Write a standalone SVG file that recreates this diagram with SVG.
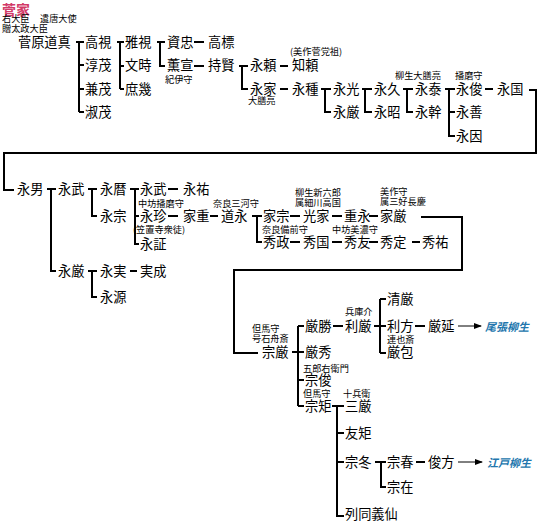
<svg xmlns="http://www.w3.org/2000/svg" width="541" height="523" viewBox="0 0 541 523">
<defs>
<style>
.n{font-family:"Noto Sans CJK JP","Noto Sans CJK SC",sans-serif;font-size:13.2px;fill:#000}
.s{font-family:"Noto Sans CJK JP","Noto Sans CJK SC",sans-serif;font-size:9.2px;fill:#000}
.t{font-family:"Noto Sans CJK JP",sans-serif;font-size:14px;font-weight:bold;fill:#d23a68}
.b{font-family:"Noto Sans CJK JP",sans-serif;font-size:11px;font-weight:bold;font-style:italic;fill:#2276ad}
.l{fill:none;stroke:#000;stroke-width:2}
.a{fill:none;stroke:#000;stroke-width:1}
</style>
<marker id="ah" viewBox="0 0 8 6" refX="7" refY="3" markerWidth="8" markerHeight="6" markerUnits="userSpaceOnUse" orient="auto">
<path d="M0,0 L8,3 L0,6 Z" fill="#000"/>
</marker>
</defs>
<rect width="541" height="523" fill="#fff"/>

<g id="connectors">
<path class="l" d="M76,42H84M79,42V112M79,65H84M79,89H84M79,112H84"/>
<path class="l" d="M117,42H124M120,42V89M120,66H124M120,89H124"/>
<path class="l" d="M157,42H165M160,42V66H165"/>
<path class="l" d="M194,42H204M194,66H204"/>
<path class="l" d="M239,66H248M242,66V89H248"/>
<path class="l" d="M280,66H288M280,89H288"/>
<path class="l" d="M321,89H331M325,89V112H331"/>
<path class="l" d="M362,89H372M365,89V112H372"/>
<path class="l" d="M403,89H413M407,89V112H413"/>
<path class="l" d="M445,89H455M449,89V136H455M449,112H455"/>
<path class="l" d="M485,89H493"/>
<path class="l" d="M529,90H536V153H4V190H14"/>
<path class="l" d="M47,189H56M51,189V271H56"/>
<path class="l" d="M88,189H97M92,189V216H97"/>
<path class="l" d="M130,189H139M135,189V244H139M135,216H139"/>
<path class="l" d="M168,189H178M168,216H178M210,216H218"/>
<path class="l" d="M252,216H262M257,216V242H262"/>
<path class="l" d="M290,216H300M332,216H342M369,216H378"/>
<path class="l" d="M290,242H300M332,242H342M369,242H378M412,242H420"/>
<path class="l" d="M421,217H462V270H234V353H258"/>
<path class="l" d="M88,271H97M92,271V297H97"/>
<path class="l" d="M130,271H137"/>
<path class="l" d="M292,352H304M298,326V406M298,326H304M298,380H304M298,406H304"/>
<path class="l" d="M333,326H343"/>
<path class="l" d="M374,326H386M380,299V353M380,299H386M380,353H386"/>
<path class="l" d="M415,326H425"/>
<path class="a" d="M458,326H481" marker-end="url(#ah)"/>
<path class="l" d="M332,406H344M337,406V516H344M337,433H344M337,462H344"/>
<path class="l" d="M375,462H386M381,462V487H386"/>
<path class="l" d="M416,462H425"/>
<path class="a" d="M458,462H482" marker-end="url(#ah)"/>
</g>

<g id="title">
<text class="t" x="2" y="15">菅家</text>
</g>

<g id="michizane">
<text class="s" x="2" y="22">右大臣</text>
<text class="s" x="40" y="22">遣唐大使</text>
<text class="s" x="2" y="32">贈太政大臣</text>
<text class="n" x="18" y="47">菅原道真</text>
</g>
<g id="takami"><text class="n" x="85" y="47">高視</text></g>
<g id="atsushige"><text class="n" x="85" y="70">淳茂</text></g>
<g id="kaneshige"><text class="n" x="85" y="94">兼茂</text></g>
<g id="yoshishige"><text class="n" x="85" y="117">淑茂</text></g>
<g id="masami"><text class="n" x="125" y="47">雅視</text></g>
<g id="fumitoki"><text class="n" x="125" y="70">文時</text></g>
<g id="shoki"><text class="n" x="125" y="94">庶幾</text></g>
<g id="suketada"><text class="n" x="167" y="47">資忠</text></g>
<g id="takasue"><text class="n" x="208" y="47">高標</text></g>
<g id="kunnobu"><text class="n" x="167" y="70">薫宣</text><text class="s" x="165" y="83">紀伊守</text></g>
<g id="mochikata"><text class="n" x="208" y="70">持賢</text></g>
<g id="nagayori"><text class="n" x="250" y="70">永頼</text></g>
<g id="tomoyori"><text class="s" x="290" y="55">(美作菅党祖)</text><text class="n" x="292" y="70">知頼</text></g>
<g id="nagaie"><text class="n" x="250" y="94">永家</text><text class="s" x="248" y="104">大膳亮</text></g>
<g id="nagatane"><text class="n" x="292" y="94">永種</text></g>
<g id="nagamitsu"><text class="n" x="333" y="94">永光</text></g>
<g id="nagayoshi1"><text class="n" x="333" y="117">永厳</text></g>
<g id="nagahisa"><text class="n" x="374" y="94">永久</text></g>
<g id="nagaaki"><text class="n" x="374" y="117">永昭</text></g>
<g id="nagayasu"><text class="s" x="395" y="79">柳生大膳亮</text><text class="n" x="415" y="94">永泰</text></g>
<g id="nagamoto"><text class="n" x="415" y="117">永幹</text></g>
<g id="nagatoshi"><text class="s" x="455" y="79">播磨守</text><text class="n" x="456" y="94">永俊</text></g>
<g id="nagakuni"><text class="n" x="497" y="94">永国</text></g>
<g id="nagayoshi2"><text class="n" x="456" y="117">永善</text></g>
<g id="nagayori2"><text class="n" x="456" y="141">永因</text></g>

<g id="nagao"><text class="n" x="17" y="194">永男</text></g>
<g id="nagatake1"><text class="n" x="58" y="194">永武</text></g>
<g id="nagareki"><text class="n" x="100" y="194">永暦</text></g>
<g id="nagamune"><text class="n" x="100" y="221">永宗</text></g>
<g id="nagatake2"><text class="n" x="140" y="194">永武</text></g>
<g id="nagasuke"><text class="n" x="183" y="194">永祐</text></g>
<g id="nagachin"><text class="s" x="138" y="207">中坊播磨守</text><text class="n" x="140" y="221">永珍</text></g>
<g id="ieshige"><text class="n" x="183" y="221">家重</text></g>
<g id="michinaga"><text class="s" x="213" y="207">奈良三河守</text><text class="n" x="221" y="221">道永</text></g>
<g id="nagasho"><text class="s" x="133" y="233">(笠置寺衆徒)</text><text class="n" x="140" y="249">永証</text></g>
<g id="iemune"><text class="n" x="263" y="221">家宗</text></g>
<g id="mitsuie"><text class="s" x="295" y="196">柳生新六郎</text><text class="s" x="295" y="206">属細川高国</text><text class="n" x="303" y="221">光家</text></g>
<g id="shigenaga"><text class="n" x="344" y="221">重永</text></g>
<g id="ieyoshi"><text class="s" x="380" y="195">美作守</text><text class="s" x="380" y="205">属三好長慶</text><text class="n" x="380" y="221">家厳</text></g>
<g id="hidemasa"><text class="s" x="262" y="233">奈良備前守</text><text class="n" x="263" y="247">秀政</text></g>
<g id="hidekuni"><text class="n" x="303" y="247">秀国</text></g>
<g id="hidetomo"><text class="s" x="332" y="233">中坊美濃守</text><text class="n" x="344" y="247">秀友</text></g>
<g id="hidesada"><text class="n" x="380" y="247">秀定</text></g>
<g id="hidesuke"><text class="n" x="422" y="247">秀祐</text></g>
<g id="nagayoshi3"><text class="n" x="58" y="276">永厳</text></g>
<g id="nagazane"><text class="n" x="100" y="276">永実</text></g>
<g id="sanenari"><text class="n" x="140" y="276">実成</text></g>
<g id="nagamoto2"><text class="n" x="100" y="302">永源</text></g>

<g id="munetoshi"><text class="s" x="252" y="332">但馬守</text><text class="s" x="252" y="342">号石舟斎</text><text class="n" x="262" y="357">宗厳</text></g>
<g id="yoshikatsu"><text class="n" x="305" y="331">厳勝</text></g>
<g id="toshitoshi"><text class="s" x="345" y="315">兵庫介</text><text class="n" x="345" y="331">利厳</text></g>
<g id="kiyotoshi"><text class="n" x="387" y="304">清厳</text></g>
<g id="toshikata"><text class="n" x="387" y="331">利方</text></g>
<g id="toshinobu"><text class="n" x="428" y="331">厳延</text></g>
<g id="owari"><text class="b" x="485" y="331">尾張柳生</text></g>
<g id="toshikane"><text class="s" x="387" y="343">連也斎</text><text class="n" x="387" y="357">厳包</text></g>
<g id="toshihide"><text class="n" x="305" y="357">厳秀</text></g>
<g id="munetoshi2"><text class="s" x="303" y="372">五郎右衛門</text><text class="n" x="305" y="385">宗俊</text></g>
<g id="munenori"><text class="s" x="303" y="397">但馬守</text><text class="n" x="305" y="411">宗矩</text></g>
<g id="mitsuyoshi"><text class="s" x="343" y="397">十兵衛</text><text class="n" x="345" y="411">三厳</text></g>
<g id="tomonori"><text class="n" x="345" y="438">友矩</text></g>
<g id="munefuyu"><text class="n" x="345" y="467">宗冬</text></g>
<g id="muneharu"><text class="n" x="387" y="467">宗春</text></g>
<g id="toshikata2"><text class="n" x="428" y="467">俊方</text></g>
<g id="edo"><text class="b" x="487" y="467">江戸柳生</text></g>
<g id="munearu"><text class="n" x="387" y="492">宗在</text></g>
<g id="retsudo"><text class="n" x="345" y="519">列同義仙</text></g>
</svg>
